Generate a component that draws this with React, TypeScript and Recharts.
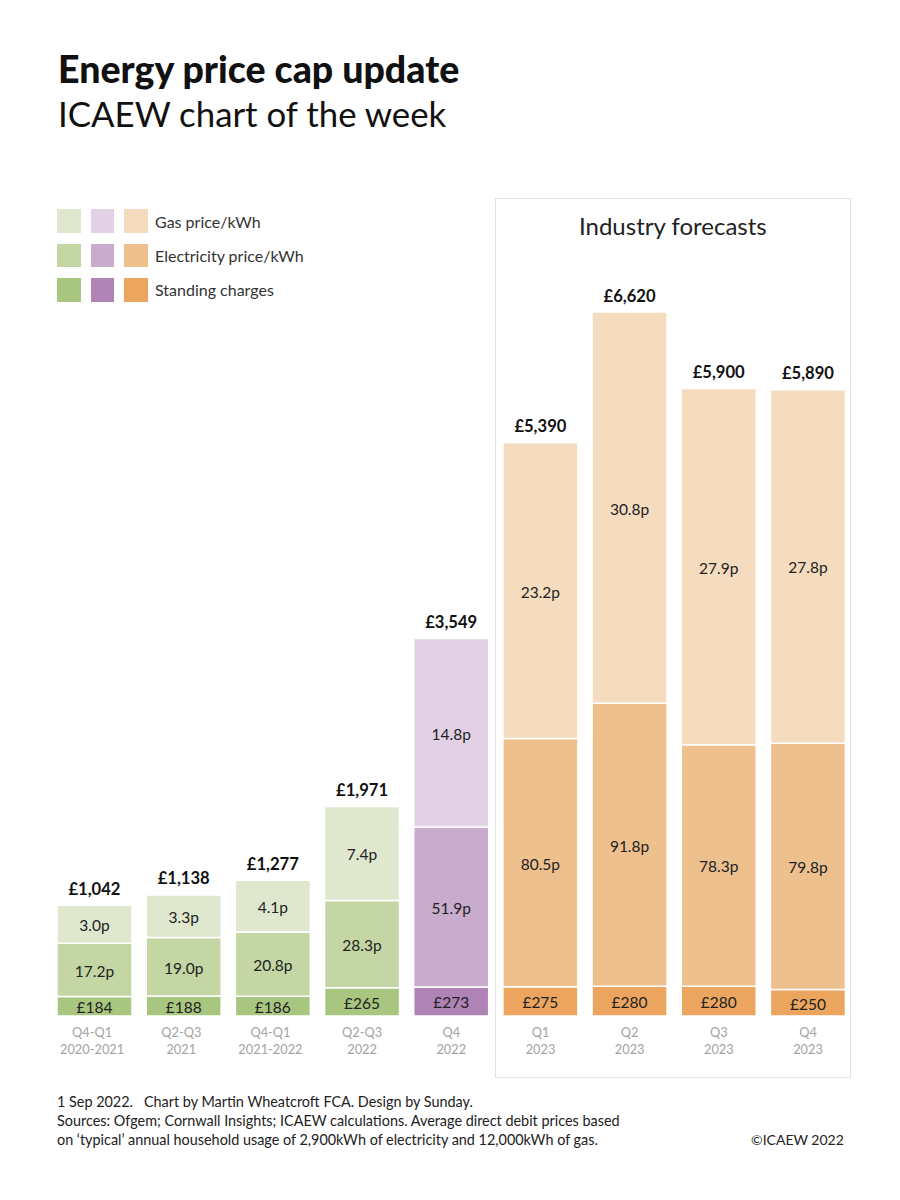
import React from 'react';
import { BarChart, Bar, XAxis, YAxis, Cell, LabelList } from 'recharts';

const FONT = 'Lato, sans-serif';

const quarters = ['Q4-Q1', 'Q2-Q3', 'Q4-Q1', 'Q2-Q3', 'Q4', 'Q1', 'Q2', 'Q3', 'Q4'];
const years = ['2020-2021', '2021', '2021-2022', '2022', '2022', '2023', '2023', '2023', '2023'];

// all in £ a year
const standingCharges = [184, 188, 186, 265, 273, 275, 280, 280, 250];
const electricityCost = [499, 551, 603, 821, 1505, 2335, 2662, 2271, 2314];
const gasCost = [359, 399, 488, 885, 1771, 2780, 3678, 3349, 3326];

const totalLabels = ['£1,042', '£1,138', '£1,277', '£1,971', '£3,549', '£5,390', '£6,620', '£5,900', '£5,890'];
const standingLabels = ['£184', '£188', '£186', '£265', '£273', '£275', '£280', '£280', '£250'];
const electricityLabels = ['17.2p', '19.0p', '20.8p', '28.3p', '51.9p', '80.5p', '91.8p', '78.3p', '79.8p'];
const gasLabels = ['3.0p', '3.3p', '4.1p', '7.4p', '14.8p', '23.2p', '30.8p', '27.9p', '27.8p'];

const green = ['#dfe8cf', '#c3d6a4', '#a8c67f'];
const purple = ['#e2d1e5', '#c9abcd', '#b083b7'];
const orange = ['#f5dcbf', '#edc08e', '#eba55f'];
const palette = (i: number) => (i < 4 ? green : i === 4 ? purple : orange);

const legendRows = ['Gas price/kWh', 'Electricity price/kWh', 'Standing charges'];
const footerLines = [
  '1 Sep 2022.   Chart by Martin Wheatcroft FCA. Design by Sunday.',
  'Sources: Ofgem; Cornwall Insights; ICAEW calculations. Average direct debit prices based',
  'on ‘typical’ annual household usage of 2,900kWh of electricity and 12,000kWh of gas.',
];

const chartData = quarters.map((q, i) => ({
  key: `${q}|${years[i]}|${i}`,
  standing: standingCharges[i],
  electricity: electricityCost[i],
  gas: gasCost[i],
  total: totalLabels[i],
  standingLabel: standingLabels[i],
  electricityLabel: electricityLabels[i],
  gasLabel: gasLabels[i],
}));

const PeriodTick = ({ x, y, payload, index }: any) => {
  const [q, yr] = String(payload.value).split('|');
  // the first few labels sit a little left of their bars in the original
  const tx = index < 3 ? x - 2.5 : x;
  return (
    <text x={tx} y={y} textAnchor="middle" fontFamily={FONT} fontSize={12.8} fill="#a3a3a3">
      <tspan x={tx} dy={15}>{q}</tspan>
      <tspan x={tx} dy={17}>{yr}</tspan>
    </text>
  );
};

const labelStyle = { fontFamily: FONT, fontSize: 15.5, fill: '#222', transform: 'translateY(1.5px)' };
const text = (left: number, top: number, style: React.CSSProperties, content: string) => (
  <div style={{ position: 'absolute', left, top, whiteSpace: 'pre', fontFamily: FONT, color: '#111', ...style }}>
    {content}
  </div>
);

const App = () => (
  <div style={{ position: 'absolute', left: 0, top: 0, width: 900, height: 1200, background: '#fff', overflow: 'hidden' }}>
    {text(58, 46, { fontSize: 37.5, fontWeight: 900, lineHeight: '46px' }, 'Energy price cap update')}
    {text(58, 91, { fontSize: 34.8, fontWeight: 400, lineHeight: '46px' }, 'ICAEW chart of the week')}

    {legendRows.map((label, row) => (
      <React.Fragment key={label}>
        {[green, purple, orange].map((colours, c) => (
          <div
            key={c}
            style={{
              position: 'absolute',
              left: 57 + c * 33.5,
              top: 209 + row * 34.5,
              width: 23.5,
              height: 23.5,
              background: colours[row],
            }}
          />
        ))}
        {text(155, 212 + row * 34, { fontSize: 16, lineHeight: '20px', color: '#333' }, label)}
      </React.Fragment>
    ))}

    <div
      style={{
        position: 'absolute',
        left: 495,
        top: 198,
        width: 354,
        height: 878,
        border: '1px solid #e3e3e3',
        boxSizing: 'content-box',
      }}
    />
    {text(579, 211, { fontSize: 24, lineHeight: '30px', color: '#222' }, 'Industry forecasts')}

    <div style={{ position: 'absolute', left: 0, top: 0 }}>
      <BarChart
        width={900}
        height={1200}
        data={chartData}
        margin={{ top: 271.6, right: 47.4, bottom: 134, left: 50 }}
        barSize={75}
      >
        <XAxis
          dataKey="key"
          axisLine={false}
          tickLine={false}
          interval={0}
          height={50}
          tickMargin={0}
          tick={<PeriodTick />}
        />
        <YAxis hide domain={[0, 7000]} />
        <Bar dataKey="standing" stackId="cap" stroke="#fff" strokeWidth={1.5} isAnimationActive={false}>
          {chartData.map((d, i) => (
            <Cell key={d.key} fill={palette(i)[2]} />
          ))}
          <LabelList dataKey="standingLabel" position="center" style={labelStyle} />
        </Bar>
        <Bar dataKey="electricity" stackId="cap" stroke="#fff" strokeWidth={1.5} isAnimationActive={false}>
          {chartData.map((d, i) => (
            <Cell key={d.key} fill={palette(i)[1]} />
          ))}
          <LabelList dataKey="electricityLabel" position="center" style={labelStyle} />
        </Bar>
        <Bar dataKey="gas" stackId="cap" stroke="#fff" strokeWidth={1.5} isAnimationActive={false}>
          {chartData.map((d, i) => (
            <Cell key={d.key} fill={palette(i)[0]} />
          ))}
          <LabelList dataKey="gasLabel" position="center" style={labelStyle} />
          <LabelList
            dataKey="total"
            position="top"
            offset={10.5}
            style={{ fontFamily: FONT, fontSize: 16.6, fontWeight: 700, fill: '#111' }}
          />
        </Bar>
      </BarChart>
    </div>

    {footerLines.map((line, i) =>
      <React.Fragment key={i}>
        {text(57, 1092 + i * 18.8, { fontSize: 14.4, lineHeight: '19px', color: '#222' }, line)}
      </React.Fragment>
    )}
    {text(751, 1130, { fontSize: 14, lineHeight: '19px', color: '#222' }, '©ICAEW 2022')}
  </div>
);

export default App;
